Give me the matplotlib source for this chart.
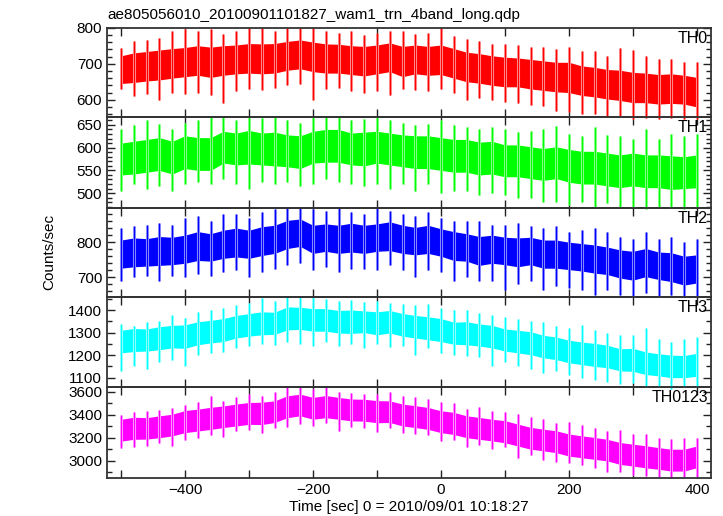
import matplotlib
matplotlib.use("Agg")
import matplotlib.pyplot as plt
from matplotlib.ticker import MultipleLocator

plt.rcParams['font.family'] = ['Liberation Sans', 'DejaVu Sans']

# time bins (s), 20-s resolution reading of the light curves
time = [-500, -480, -460, -440, -420, -400, -380, -360, -340, -320, -300, -280,
        -260, -240, -220, -200, -180, -160, -140, -120, -100, -80, -60, -40,
        -20, 0, 20, 40, 60, 80, 100, 120, 140, 160, 180, 200, 220, 240, 260,
        280, 300, 320, 340, 360, 380, 400]

panel_names = ["TH0", "TH1", "TH2", "TH3", "TH0123"]

# TH0
th0_hi = [722,730,734,738,742,745,750,746,750,752,756,755,756,762,766,760,755,754,750,748,752,758,748,752,748,752,742,732,728,722,718,716,712,708,704,704,694,690,684,682,676,674,670,672,668,662]
th0_lo = [645,648,652,655,660,664,668,662,668,672,674,672,674,682,686,678,674,674,670,666,672,678,664,672,668,670,660,650,646,640,636,636,630,626,622,620,612,608,602,598,592,592,588,590,588,580]
th0_max = [745,762,766,772,792,796,790,796,782,790,800,800,790,800,800,800,792,786,790,780,786,792,790,782,786,800,776,768,762,756,756,752,746,746,742,746,736,736,722,744,738,722,712,712,706,704]
th0_min = [630,610,615,598,620,615,620,612,592,625,630,628,632,640,645,600,630,632,625,620,625,612,630,628,625,630,618,600,605,600,595,590,585,582,570,565,560,560,555,552,548,550,548,550,548,548]

# TH1
th1_hi = [610,614,618,622,614,626,622,622,636,632,638,632,634,628,626,636,640,640,632,634,636,632,628,626,626,622,618,618,612,614,606,606,602,598,602,596,592,592,588,584,588,584,584,582,580,584]
th1_lo = [540,542,546,550,542,554,550,550,566,562,564,562,560,558,554,566,568,568,562,560,566,562,558,554,554,550,546,546,540,542,536,536,532,528,532,524,520,520,516,512,516,512,512,508,510,512]
th1_max = [640,650,660,652,640,655,660,668,668,660,668,665,668,660,655,668,668,668,660,662,668,660,655,650,652,660,650,645,640,645,640,635,636,640,648,630,625,645,628,625,620,640,620,630,625,630]
th1_min = [505,520,510,515,505,520,525,520,530,520,510,525,520,525,515,520,530,525,520,515,520,510,520,505,520,500,505,505,495,500,495,490,490,480,480,475,480,470,478,470,470,465,470,468,466,470]

# TH2
th2_hi = [806,812,810,816,814,820,830,824,834,840,834,844,848,862,866,848,852,848,854,848,852,858,848,842,848,838,830,824,816,820,814,812,814,806,806,800,796,792,786,778,774,782,772,770,760,764]
th2_lo = [726,730,732,734,736,740,748,746,754,758,754,762,768,782,788,768,774,768,772,768,774,776,768,764,768,760,748,746,734,740,736,730,736,726,726,722,718,712,708,698,692,702,694,688,678,684]
th2_max = [840,845,850,855,850,870,875,860,880,880,870,885,895,900,900,895,890,900,885,880,900,890,880,875,885,870,860,860,860,850,850,855,845,840,845,830,835,840,830,815,810,830,810,815,800,810]
th2_min = [690,700,705,690,705,700,710,705,715,720,700,715,725,735,740,720,730,715,725,725,720,735,720,700,720,715,690,700,690,690,665,680,690,665,675,670,665,650,665,650,645,655,645,650,645,645]

# TH3
th3_hi = [1310,1318,1316,1326,1332,1334,1348,1354,1362,1376,1384,1392,1390,1414,1412,1406,1406,1398,1400,1396,1392,1398,1384,1376,1370,1362,1346,1348,1338,1332,1316,1310,1304,1288,1280,1266,1258,1252,1244,1228,1230,1214,1206,1200,1198,1208]
th3_lo = [1210,1216,1218,1224,1232,1230,1246,1254,1260,1276,1284,1290,1292,1312,1314,1306,1306,1298,1296,1300,1290,1298,1284,1276,1268,1260,1248,1246,1240,1232,1218,1210,1202,1188,1180,1166,1158,1150,1144,1130,1128,1114,1108,1100,1100,1106]
th3_max = [1340,1330,1345,1350,1380,1365,1390,1400,1410,1420,1430,1455,1440,1459,1459,1459,1450,1440,1445,1435,1440,1430,1425,1420,1425,1410,1400,1400,1385,1380,1370,1360,1350,1345,1330,1320,1335,1310,1300,1290,1290,1320,1270,1260,1270,1280]
th3_min = [1130,1150,1140,1170,1180,1150,1200,1210,1215,1230,1240,1250,1245,1260,1250,1240,1260,1240,1250,1230,1250,1235,1240,1200,1230,1210,1200,1195,1190,1150,1170,1150,1140,1120,1130,1110,1100,1090,1080,1070,1075,1060,1060,1050,1060,1060]

# TH0123
th0123_hi = [3360,3378,3374,3390,3404,3436,3448,3464,3476,3492,3506,3508,3520,3564,3578,3550,3566,3550,3536,3534,3522,3520,3492,3478,3462,3434,3420,3390,3376,3360,3348,3318,3290,3274,3260,3232,3216,3202,3186,3158,3144,3130,3114,3100,3100,3128]
th0123_lo = [3170,3186,3188,3200,3216,3244,3258,3272,3288,3302,3316,3314,3332,3374,3390,3360,3374,3360,3346,3344,3330,3332,3302,3288,3272,3244,3228,3200,3186,3172,3156,3128,3100,3086,3070,3040,3026,3012,2998,2968,2954,2938,2926,2910,2910,2940]
th0123_max = [3400,3420,3430,3440,3460,3480,3510,3560,3520,3550,3580,3560,3600,3643,3643,3620,3643,3600,3590,3580,3580,3600,3560,3550,3540,3510,3500,3450,3470,3430,3420,3410,3380,3360,3330,3340,3310,3280,3260,3270,3230,3230,3200,3190,3200,3200]
th0123_min = [3110,3120,3130,3150,3130,3180,3200,3220,3210,3260,3270,3240,3280,3290,3320,3300,3330,3260,3290,3280,3250,3280,3240,3230,3220,3170,3180,3120,3140,3100,3120,3020,3050,3010,2990,2980,2960,2940,2900,2900,2880,2870,2860,2850,2860,2860]

series = [
    (th0_lo, th0_hi, th0_min, th0_max),
    (th1_lo, th1_hi, th1_min, th1_max),
    (th2_lo, th2_hi, th2_min, th2_max),
    (th3_lo, th3_hi, th3_min, th3_max),
    (th0123_lo, th0123_hi, th0123_min, th0123_max),
]

colors = ["#ff0000", "#00ff00", "#0000ff", "#00ffff", "#ff00ff"]
light = ["#ff9a9a", "#9aff9a", "#9a9aff", "#a8ffff", "#ffa8ff"]
ylims = [(553, 800), (468, 668), (645, 898), (1060, 1459), (2850, 3643)]
major = [100, 50, 100, 100, 200]
minor = [20, 10, 20, 50, 100]

W, H = 723, 516
fig = plt.figure(figsize=(W / 100, H / 100), dpi=100)
left, right = 107, 711
bounds = [27.7, 116.7, 207.7, 296.7, 386.7, 478.0]

for i in range(5):
    top_px, bot_px = bounds[i], bounds[i + 1]
    ax = fig.add_axes([left / W, 1 - bot_px / H, (right - left) / W, (bot_px - top_px) / H])
    lo, hi, mn, mx = series[i]
    ax.vlines(time, mn, mx, color=light[i], lw=2.2, clip_on=False)
    ax.vlines(time, mn, mx, color=colors[i], lw=0.9, clip_on=False)
    ax.fill_between(time, lo, hi, color=colors[i], lw=0, clip_on=False)
    ax.set_xlim(-522, 422)
    ax.set_ylim(*ylims[i])
    ax.xaxis.set_major_locator(MultipleLocator(100))
    ax.yaxis.set_major_locator(MultipleLocator(major[i]))
    ax.yaxis.set_minor_locator(MultipleLocator(minor[i]))
    ax.tick_params(which='both', direction='in', top=True, right=True,
                   labelsize=11, width=1, colors='#222222', labelcolor='black')
    ax.tick_params(which='major', length=6)
    ax.tick_params(which='minor', length=3.5)
    for s in ax.spines.values():
        s.set_linewidth(1.3)
        s.set_color('#333333')
    if i < 4:
        ax.tick_params(labelbottom=False)
    else:
        ax.set_xticks([-500, -400, -300, -200, -100, 0, 100, 200, 300, 400])
        ax.set_xticklabels(["", "\u2212400", "", "\u2212200", "", "0", "", "200", "", "400"])
        ax.set_xlabel("Time [sec] 0 = 2010/09/01 10:18:27", fontsize=11, labelpad=2)
    ax.text(0.995, 0.96, panel_names[i], transform=ax.transAxes, ha='right', va='top', fontsize=11.5)
    ax.set_zorder(10 - i)
    ax.patch.set_alpha(0)

fig.text(107 / W, 1 - 15 / H, "ae805056010_20100901101827_wam1_trn_4band_long.qdp",
         ha='left', va='center', fontsize=11)
fig.text(49 / W, 1 - 252 / H, "Counts/sec", rotation=90, ha='center', va='center', fontsize=11)

fig.savefig("out.png", dpi=100)
